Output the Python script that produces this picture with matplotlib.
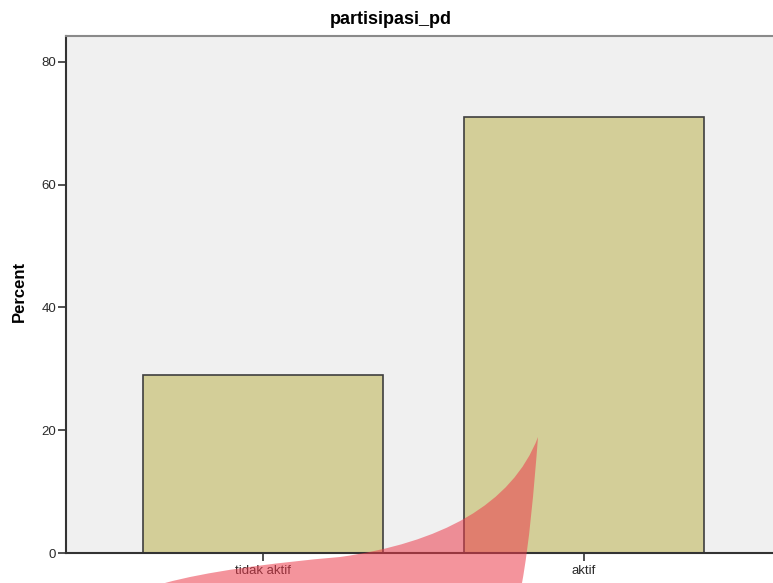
import matplotlib
matplotlib.use("Agg")
import matplotlib.pyplot as plt
from matplotlib.patches import PathPatch
from matplotlib.path import Path

# Frequency chart of participation status (percent of respondents)
categories = ["tidak aktif", "aktif"]
percents = [29.0, 71.0]
y_ticks = [0, 20, 40, 60, 80]

W, H = 773, 583
plt.rcParams["font.family"] = ["Liberation Sans", "DejaVu Sans"]

fig = plt.figure(figsize=(W / 100, H / 100), dpi=100)
# plot area runs past the right edge of the canvas
ax = fig.add_axes([66 / W, 1 - 553 / H, (781 - 66) / W, (553 - 36) / H])
ax.set_facecolor("#f0f0f0")

x = list(range(len(categories)))
ax.bar(x, percents, width=0.748, color="#d3ce98", edgecolor="#3f3f3f", linewidth=1.2, zorder=2)

ax.set_xlim(-0.614, 1.614)
ax.set_ylim(0, 84.2)
ax.set_xticks(x)
ax.set_xticklabels(categories, fontsize=9.5, color="#2a2a2a")
ax.set_yticks(y_ticks)
ax.set_yticklabels([str(v) for v in y_ticks], fontsize=9.5, color="#2a2a2a")
ax.tick_params(axis="both", direction="out", length=5.5, width=1.2, color="#333333", pad=1.5)
ax.tick_params(axis="x", pad=3.5)

for side in ["left", "bottom"]:
    ax.spines[side].set_color("#333333")
    ax.spines[side].set_linewidth(1.5)
ax.spines["top"].set_color("#8a8a8a")
ax.spines["top"].set_linewidth(1.5)
ax.spines["right"].set_visible(False)

fig.text(391 / W, 1 - 19 / H, "partisipasi_pd", ha="center", va="center",
         fontsize=13, fontweight="bold")
fig.text(19 / W, 1 - 291 / H, "Percent", ha="center", va="center",
         rotation=90, fontsize=12, fontweight="bold")

# red highlight swoosh laid over the lower part of the chart (pixel outline)
swoosh_px = [
    (538, 437),
    (512, 505), (440, 543), (340, 557),
    (270, 563), (205, 572), (165, 583),
    (522, 583),
    (529, 545), (534, 490), (538, 437),
]
swoosh_codes = [Path.MOVETO,
                Path.CURVE4, Path.CURVE4, Path.CURVE4,
                Path.CURVE4, Path.CURVE4, Path.CURVE4,
                Path.LINETO,
                Path.CURVE4, Path.CURVE4, Path.CURVE4]
swoosh_path = Path([(px / W, 1 - py / H) for px, py in swoosh_px], swoosh_codes)
swoosh = PathPatch(swoosh_path, transform=fig.transFigure, facecolor="#ec3c4c",
                   alpha=0.55, edgecolor="none", zorder=10)
fig.patches.append(swoosh)

fig.savefig("out.png", dpi=100)
